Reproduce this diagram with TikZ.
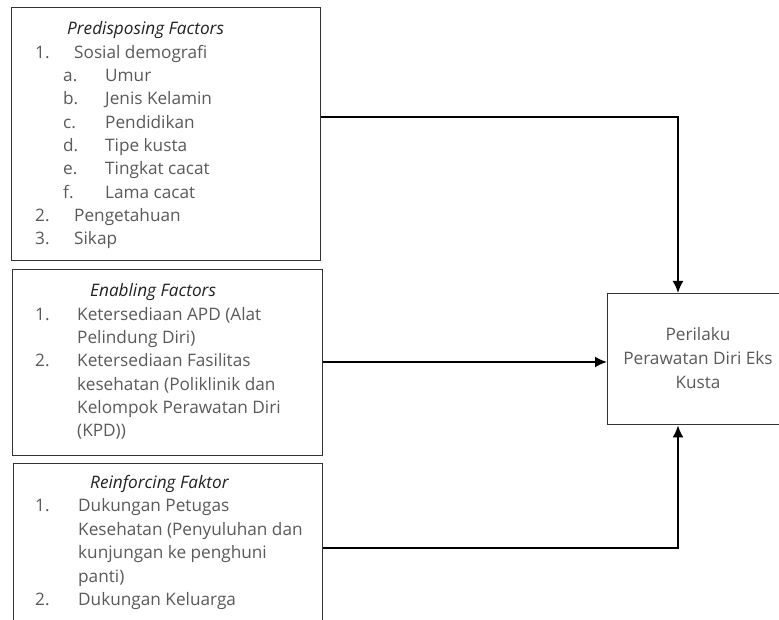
\documentclass[tikz,border=0pt]{standalone}
\usepackage{fontspec}
\setmainfont{Open Sans}
\usetikzlibrary{arrows.meta}
\definecolor{txtgray}{HTML}{5A5A5A}
\definecolor{headc}{HTML}{222222}
\definecolor{boxc}{HTML}{333333}
\begin{document}
\begin{tikzpicture}[x=1pt,y=-1pt,
  box/.style={draw=boxc, line width=1.4pt, rectangle, inner sep=0pt, anchor=north west},
  item/.style={anchor=base west, inner sep=0pt, text=txtgray, font=\fontsize{17.2}{20}\selectfont},
  head/.style={anchor=base west, inner sep=0pt, text=headc, font=\fontsize{17.2}{20}\selectfont\itshape},
  ttxt/.style={anchor=base, inner sep=0pt, text=txtgray, font=\fontsize{17.2}{20}\selectfont},
  conn/.style={draw=black, line width=1.8pt, -{Latex[length=12pt,width=11pt]}}]
\useasboundingbox (0,0) rectangle (779,620);
\clip (0,0) rectangle (779,620);
\fill[white] (0,0) rectangle (779,620);
% boxes
\node[box, minimum width=309pt, minimum height=253pt] (b1) at (11,7) {};
\node[box, minimum width=310pt, minimum height=186pt] (b2) at (12,269) {};
\node[box, minimum width=309pt, minimum height=190pt] (b3) at (13,463) {};
\node[box, minimum width=200pt, minimum height=131pt] (t) at (607,293) {};
% box 1 text
\node[head] (h1) at (67,35) {Predisposing Factors};
\node[item] (n11) at (35,58.3) {1.};
\node[item] (s11) at (74,58.3) {Sosial demografi};
\node[item] (la) at (63,81.6) {a.};
\node[item] (sa) at (105,81.6) {Umur};
\node[item] (lb) at (63,104.9) {b.};
\node[item] (sb) at (105,104.9) {Jenis Kelamin};
\node[item] (lc) at (63,128.2) {c.};
\node[item] (sc) at (105,128.2) {Pendidikan};
\node[item] (ld) at (63,151.5) {d.};
\node[item] (sd) at (105,151.5) {Tipe kusta};
\node[item] (le) at (63,174.8) {e.};
\node[item] (se) at (105,174.8) {Tingkat cacat};
\node[item] (lf) at (63,198.1) {f.};
\node[item] (sf) at (105,198.1) {Lama cacat};
\node[item] (n12) at (35,221.4) {2.};
\node[item] (s12) at (74,221.4) {Pengetahuan};
\node[item] (n13) at (35,244.7) {3.};
\node[item] (s13) at (74,244.7) {Sikap};
% box 2 text
\node[head] (h2) at (90,297) {Enabling Factors};
\node[item] (n21) at (35,320.3) {1.};
\node[item] (s21a) at (77,320.3) {Ketersediaan APD (Alat};
\node[item] (s21b) at (77,343.6) {Pelindung Diri)};
\node[item] (n22) at (35,366.9) {2.};
\node[item] (s22a) at (77,366.9) {Ketersediaan Fasilitas};
\node[item] (s22b) at (77,390.2) {kesehatan (Poliklinik dan};
\node[item] (s22c) at (77,413.5) {Kelompok Perawatan Diri};
\node[item] (s22d) at (77,436.8) {(KPD))};
% box 3 text
\node[head] (h3) at (90,488) {Reinforcing Faktor};
\node[item] (n31) at (35,511.5) {1.};
\node[item] (s31a) at (78,511.5) {Dukungan Petugas};
\node[item] (s31b) at (78,535) {Kesehatan (Penyuluhan dan};
\node[item] (s31c) at (78,558.5) {kunjungan ke penghuni};
\node[item] (s31d) at (78,582) {panti)};
\node[item] (n32) at (35,605.5) {2.};
\node[item] (s32) at (78,605.5) {Dukungan Keluarga};
% target text
\node[ttxt] (t1) at (698,341) {Perilaku};
\node[ttxt] (t2) at (698,364.5) {Perawatan Diri Eks};
\node[ttxt] (t3) at (698,388) {Kusta};
% connectors
\coordinate (ax) at (678,0);
\coordinate (y1) at (0,117);
\coordinate (y2) at (0,362);
\coordinate (y3) at (0,548);
\draw[conn] (b1.east |- y1) -| (t.north -| ax);
\draw[conn] (b2.east |- y2) -- (t.west |- y2);
\draw[conn] (b3.east |- y3) -| (t.south -| ax);
\end{tikzpicture}
\end{document}
